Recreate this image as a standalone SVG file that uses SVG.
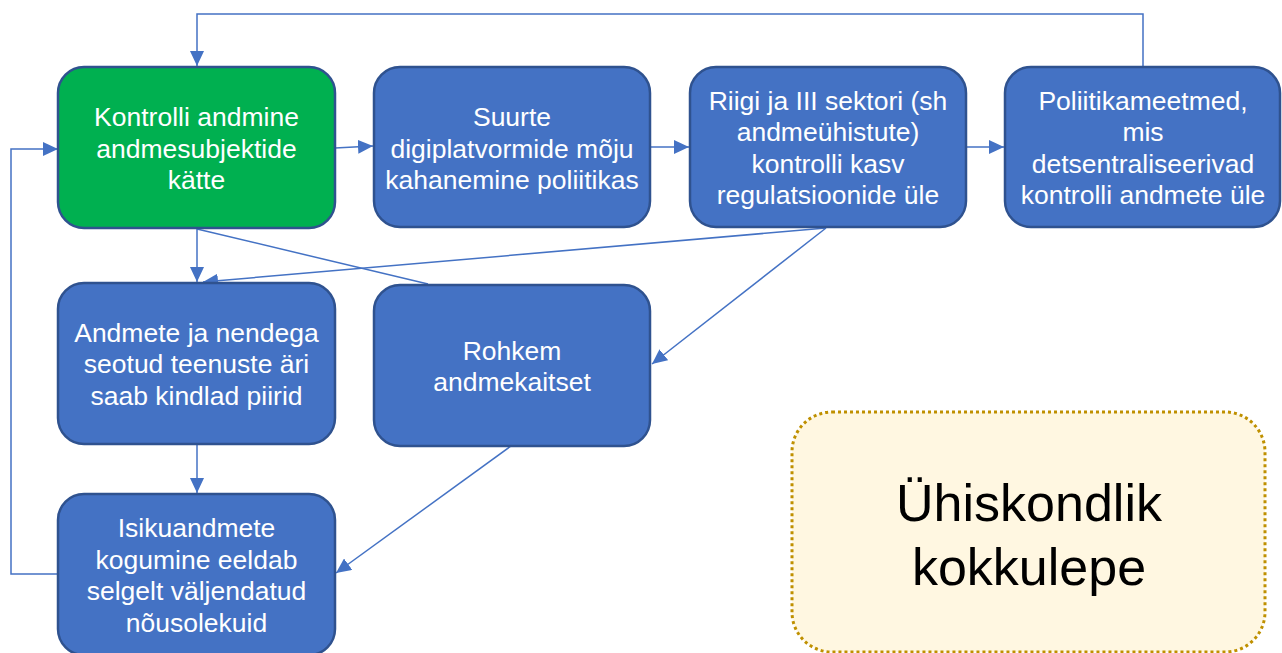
<svg xmlns="http://www.w3.org/2000/svg" width="1282" height="653" viewBox="0 0 1282 653">
<style>
.box{fill:#4472C4;stroke:#2F528F;stroke-width:2.5}
.green{fill:#00B050;stroke:#2F528F;stroke-width:2.5}
.t{font-family:"Liberation Sans",Arial,sans-serif;font-size:26.5px;fill:#fff;text-anchor:middle}
.c{fill:none;stroke:#4472C4;stroke-width:1.5}
.note{fill:#FFF7E1;stroke:#BF9000;stroke-width:3;stroke-dasharray:3 3}
.nt{font-family:"Liberation Sans",Arial,sans-serif;font-size:52px;fill:#000;text-anchor:middle}
</style>
<defs>
<marker id="ah" markerUnits="userSpaceOnUse" markerWidth="15" markerHeight="14" refX="15" refY="7" orient="auto">
<path d="M0,0 L15,7 L0,14 z" fill="#4472C4"/>
</marker>
</defs>
<rect width="1282" height="653" fill="#fff"/>
<g id="connectors">
<path class="c" d="M1143,66 V14 H197 V66" marker-end="url(#ah)"/>
<path class="c" d="M58,574 H11 V149 H58" marker-end="url(#ah)"/>
<path class="c" d="M335,148 L373,146" marker-end="url(#ah)"/>
<path class="c" d="M650,147 H689" marker-end="url(#ah)"/>
<path class="c" d="M966,147 H1004" marker-end="url(#ah)"/>
<path class="c" d="M197,228 V282" marker-end="url(#ah)"/>
<path class="c" d="M197,229 L428,284"/>
<path class="c" d="M826,228 L203,282" marker-end="url(#ah)"/>
<path class="c" d="M826,228 L652,364" marker-end="url(#ah)"/>
<path class="c" d="M511,446 L336,573" marker-end="url(#ah)"/>
<path class="c" d="M197,444 V493" marker-end="url(#ah)"/>
</g>
<g id="n1">
<rect class="green" x="58" y="67" width="277" height="161" rx="26"/>
<text class="t"><tspan x="196.5" y="126">Kontrolli andmine</tspan><tspan x="196.5" y="157.5">andmesubjektide</tspan><tspan x="196.5" y="189">kätte</tspan></text>
</g>
<g id="n2">
<rect class="box" x="374" y="67" width="276" height="160" rx="26"/>
<text class="t"><tspan x="512" y="126">Suurte</tspan><tspan x="512" y="157.5">digiplatvormide mõju</tspan><tspan x="512" y="189">kahanemine poliitikas</tspan></text>
</g>
<g id="n3">
<rect class="box" x="690" y="67" width="276" height="160" rx="26"/>
<text class="t"><tspan x="828" y="109.5">Riigi ja III sektori (sh</tspan><tspan x="828" y="141">andmeühistute)</tspan><tspan x="828" y="172.5">kontrolli kasv</tspan><tspan x="828" y="204">regulatsioonide üle</tspan></text>
</g>
<g id="n4">
<rect class="box" x="1005" y="67" width="275" height="160" rx="26"/>
<text class="t"><tspan x="1143" y="109.5">Poliitikameetmed,</tspan><tspan x="1143" y="141">mis</tspan><tspan x="1143" y="172.5">detsentraliseerivad</tspan><tspan x="1143" y="204">kontrolli andmete üle</tspan></text>
</g>
<g id="n5">
<rect class="box" x="58" y="283" width="277" height="161" rx="26"/>
<text class="t"><tspan x="196.5" y="341.5">Andmete ja nendega</tspan><tspan x="196.5" y="373">seotud teenuste äri</tspan><tspan x="196.5" y="404.5">saab kindlad piirid</tspan></text>
</g>
<g id="n6">
<rect class="box" x="374" y="285" width="276" height="161" rx="26"/>
<text class="t"><tspan x="512" y="359.5">Rohkem</tspan><tspan x="512" y="391">andmekaitset</tspan></text>
</g>
<g id="n7">
<rect class="box" x="58" y="494" width="277" height="161" rx="26"/>
<text class="t"><tspan x="196.5" y="537">Isikuandmete</tspan><tspan x="196.5" y="568.5">kogumine eeldab</tspan><tspan x="196.5" y="600">selgelt väljendatud</tspan><tspan x="196.5" y="631.5">nõusolekuid</tspan></text>
</g>
<g id="n8">
<rect class="note" x="792" y="412" width="473" height="240" rx="40"/>
<text class="nt"><tspan x="1029" y="521">Ühiskondlik</tspan><tspan x="1029" y="585">kokkulepe</tspan></text>
</g>
</svg>
